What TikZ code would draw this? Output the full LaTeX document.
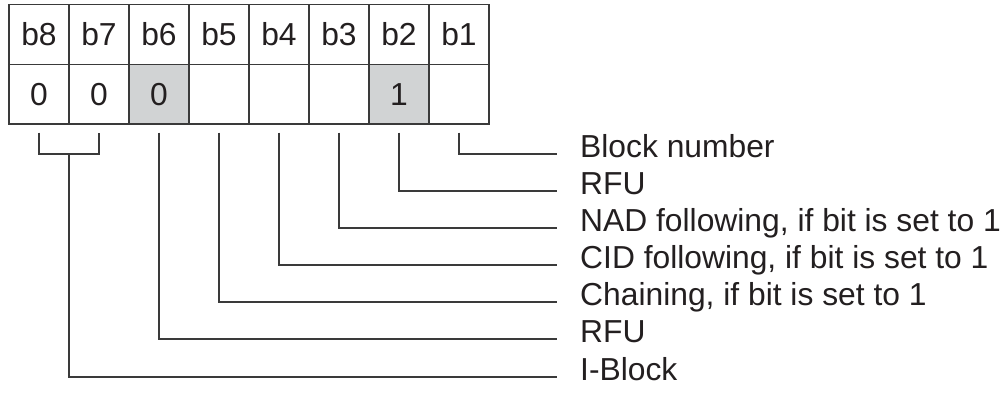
\documentclass[tikz,border=0pt]{standalone}
\usepackage{fontspec}
\setmainfont{Liberation Sans}
\definecolor{linec}{HTML}{3A3A3A}
\definecolor{txtc}{HTML}{231F20}
\definecolor{cellgrey}{HTML}{D1D3D4}
\tikzset{
  cell/.style={draw=linec, line width=1.1pt, minimum width=60pt, minimum height=59.5pt, inner sep=0pt, text=txtc, font=\fontsize{31.8}{38}\selectfont},
  shaded/.style={fill=cellgrey},
  lbl/.style={anchor=west, inner sep=0pt, text height=0.716em, text depth=0pt, text=txtc, font=\fontsize{31.8}{38}\selectfont},
  conn/.style={draw=linec, line width=1.2pt}
}
\begin{document}
\begin{tikzpicture}[x=1pt, y=-1pt]
\useasboundingbox (0,0) rectangle (1005,394);
% header row
\node[cell] (h8) at (39,34.5) {b8};
\node[cell] (h7) at (99,34.5) {b7};
\node[cell] (h6) at (159,34.5) {b6};
\node[cell] (h5) at (219,34.5) {b5};
\node[cell] (h4) at (279,34.5) {b4};
\node[cell] (h3) at (339,34.5) {b3};
\node[cell] (h2) at (399,34.5) {b2};
\node[cell] (h1) at (459,34.5) {b1};
% value row
\node[cell] (v8) at (39,94.25) {0};
\node[cell] (v7) at (99,94.25) {0};
\node[cell, shaded] (v6) at (159,94.25) {0};
\node[cell] (v5) at (219,94.25) {};
\node[cell] (v4) at (279,94.25) {};
\node[cell] (v3) at (339,94.25) {};
\node[cell, shaded] (v2) at (399,94.25) {1};
\node[cell] (v1) at (459,94.25) {};
% labels
\node[lbl] (l1) at (580,154) {Block number};
\node[lbl] (l2) at (580,191) {RFU};
\node[lbl] (l3) at (580,228) {NAD following, if bit is set to 1};
\node[lbl] (l4) at (580,265) {CID following, if bit is set to 1};
\node[lbl] (l5) at (580,302) {Chaining, if bit is set to 1};
\node[lbl] (l6) at (580,339) {RFU};
\node[lbl] (l7) at (580,377) {I-Block};
% tick start points
\foreach \i in {1,...,8} { \coordinate (t\i) at ([yshift=-8pt]v\i.south); }
\coordinate (br8) at (39,154);
\coordinate (br7) at (99,154);
\coordinate (j) at (69,154);
% connectors
\draw[conn] (t1) |- ([xshift=-23pt]l1.west);
\draw[conn] (t2) |- ([xshift=-23pt]l2.west);
\draw[conn] (t3) |- ([xshift=-23pt]l3.west);
\draw[conn] (t4) |- ([xshift=-23pt]l4.west);
\draw[conn] (t5) |- ([xshift=-23pt]l5.west);
\draw[conn] (t6) |- ([xshift=-23pt]l6.west);
\draw[conn] (t8) -- (br8) -- (br7) -- (t7);
\draw[conn] (j) |- ([xshift=-23pt]l7.west);
\end{tikzpicture}
\end{document}
